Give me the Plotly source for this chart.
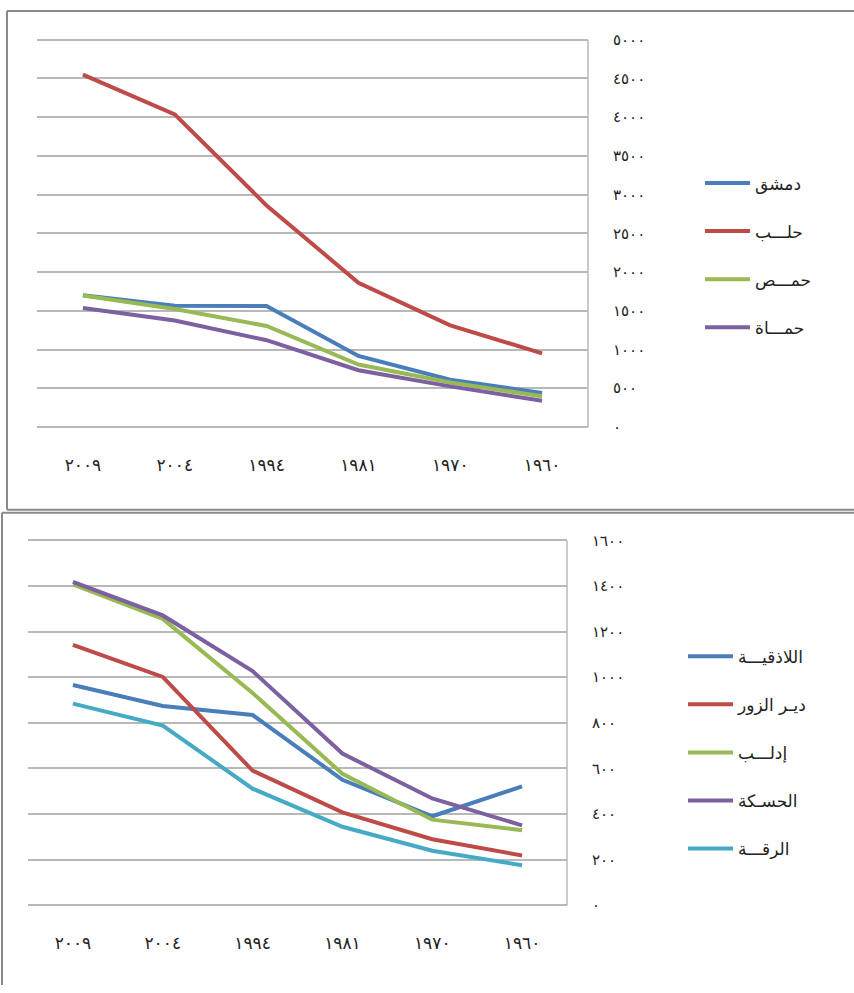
import plotly.graph_objects as go

# ---- data ----
years = ["٢٠٠٩", "٢٠٠٤", "١٩٩٤", "١٩٨١", "١٩٧٠", "١٩٦٠"]

top_names = ["دمشق", "حلـــب", "حمـــص", "حمـــاة"]
damascus = [1700, 1565, 1562, 917, 610, 438]
aleppo = [4548, 4035, 2860, 1862, 1312, 950]
homs = [1698, 1522, 1304, 806, 575, 396]
hama = [1535, 1374, 1120, 732, 524, 338]
top_series = [damascus, aleppo, homs, hama]

bottom_names = ["اللاذقيـــة", "ديـر الزور", "إدلـــب", "الحسـكة", "الرقـــة"]
latakia = [966, 874, 834, 550, 390, 521]
deir = [1142, 1001, 590, 407, 289, 218]
idlib = [1407, 1256, 931, 576, 375, 329]
hasakah = [1418, 1271, 1027, 665, 468, 350]
raqqa = [884, 788, 511, 344, 239, 175]
bottom_series = [latakia, deir, idlib, hasakah, raqqa]

top_ticks = [0, 500, 1000, 1500, 2000, 2500, 3000, 3500, 4000, 4500, 5000]
top_ticktext = ["٠", "٥٠٠", "١٠٠٠", "١٥٠٠", "٢٠٠٠", "٢٥٠٠", "٣٠٠٠", "٣٥٠٠", "٤٠٠٠", "٤٥٠٠", "٥٠٠٠"]
bottom_ticks = [0, 200, 400, 600, 800, 1000, 1200, 1400, 1600]
bottom_ticktext = ["٠", "٢٠٠", "٤٠٠", "٦٠٠", "٨٠٠", "١٠٠٠", "١٢٠٠", "١٤٠٠", "١٦٠٠"]

top_colors = ["#4A7EBB", "#BE4B48", "#98B954", "#7D60A0"]
bottom_colors = ["#4A7EBB", "#BE4B48", "#98B954", "#7D60A0", "#46AAC5"]

W, H = 854, 993
FONT = "DejaVu Sans"
GRID = "#B8B8B8"

def px(x):
    return x / W

def py(y):
    return 1 - y / H

fig = go.Figure()

for name, vals, col in zip(top_names, top_series, top_colors):
    fig.add_trace(go.Scatter(x=years, y=vals, name=name, mode="lines",
                             line=dict(color=col, width=4),
                             xaxis="x", yaxis="y", legend="legend",
                             legendgroup="t" + name))
for name, vals, col in zip(bottom_names, bottom_series, bottom_colors):
    fig.add_trace(go.Scatter(x=years, y=vals, name=name, mode="lines",
                             line=dict(color=col, width=4),
                             xaxis="x2", yaxis="y2", legend="legend2",
                             legendgroup="b" + name))

xcommon = dict(type="category", range=[-0.5, 5.5], showgrid=False, zeroline=False,
               showline=False, ticks="", ticklabelstandoff=25,
               tickfont=dict(family=FONT, size=17, color="#222"))
ycommon = dict(side="right", showgrid=True, gridcolor=GRID, gridwidth=1.5,
               zeroline=False, showline=False,
               ticks="", ticklabelstandoff=24,
               tickfont=dict(family=FONT, size=15, color="#222"))

fig.update_layout(
    width=W, height=H, autosize=False,
    margin=dict(l=0, r=0, t=0, b=0),
    paper_bgcolor="white", plot_bgcolor="white",
    showlegend=True,
    xaxis=dict(domain=[px(37), px(588)], anchor="y", **xcommon),
    yaxis=dict(domain=[py(427), py(31)], anchor="x", range=[-15, 5015],
               tickvals=top_ticks, ticktext=top_ticktext, **ycommon),
    xaxis2=dict(domain=[px(28), px(567)], anchor="y2", **xcommon),
    yaxis2=dict(domain=[py(913), py(540)], anchor="x2", range=[-5, 1605],
                tickvals=bottom_ticks, ticktext=bottom_ticktext, **ycommon),
    legend=dict(x=px(700), y=py(160), xanchor="left", yanchor="top",
                bgcolor="rgba(0,0,0,0)", tracegroupgap=23, itemwidth=45,
                font=dict(family=FONT, size=17, color="#222")),
    legend2=dict(x=px(683), y=py(641), xanchor="left", yanchor="top",
                 bgcolor="rgba(0,0,0,0)", tracegroupgap=23, itemwidth=45,
                 font=dict(family=FONT, size=17, color="#222")),
)

frame = dict(color="#8A8A8A", width=2)
axisline = dict(color=GRID, width=1.5)
shapes = [
    # right-hand axis lines of the two plot areas
    dict(type="line", xref="x domain", yref="y", x0=1, x1=1, y0=0, y1=5000, line=axisline),
    dict(type="line", xref="x2 domain", yref="y2", x0=1, x1=1, y0=0, y1=1600, line=axisline),
    # panel frames
    dict(type="line", xref="paper", yref="paper", x0=px(7), x1=1, y0=py(3), y1=py(3), line=frame),
    dict(type="line", xref="paper", yref="paper", x0=px(7), x1=px(7), y0=py(3), y1=py(510), line=frame),
    dict(type="line", xref="paper", yref="paper", x0=px(7), x1=1, y0=py(510), y1=py(510), line=frame),
    dict(type="line", xref="paper", yref="paper", x0=px(2), x1=1, y0=py(513), y1=py(513), line=frame),
    dict(type="line", xref="paper", yref="paper", x0=px(2), x1=px(2), y0=py(513), y1=0, line=frame),
]
fig.update_layout(shapes=shapes)

fig.write_html("out.html", config={"displayModeBar": False},
               post_script="document.body.style.margin='0';document.body.style.overflow='hidden';")
